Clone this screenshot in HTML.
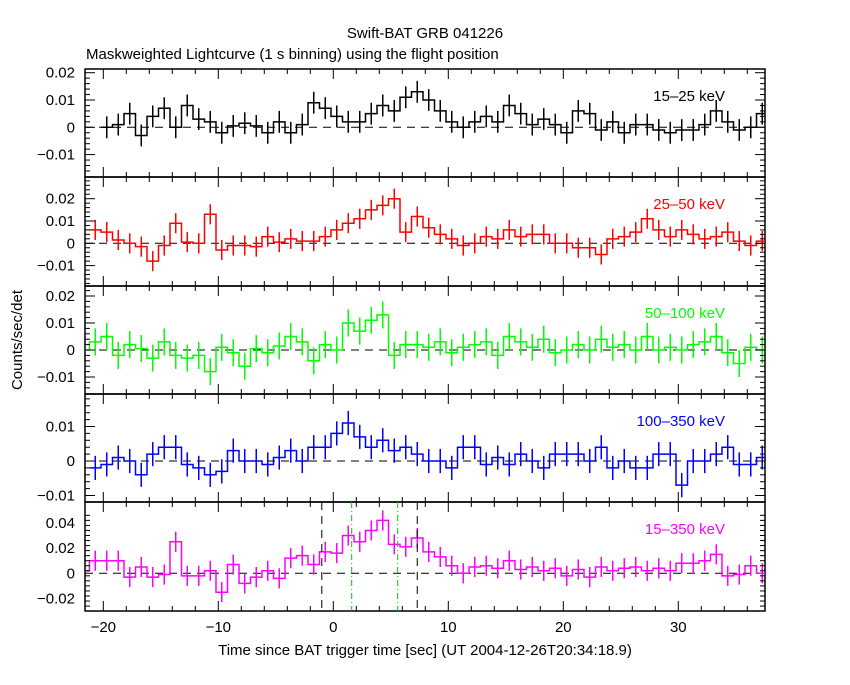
<!DOCTYPE html>
<html><head><meta charset="utf-8"><style>
body{margin:0;background:#fff;}
svg text{font-family:"Liberation Sans",sans-serif;font-size:15px;}
</style></head><body>
<svg id="s" width="850" height="680" xmlns="http://www.w3.org/2000/svg"></svg>
<script>
const S=document.getElementById('s');let h='';
const X0=85,X1=765,xz=333.3,xs=11.5;
const tx=t=>xz+t*xs;
h+='<text x="425" y="38" text-anchor="middle">Swift-BAT GRB 041226</text>';
h+='<text x="86" y="59">Maskweighted Lightcurve (1 s binning) using the flight position</text>';
h+='<text x="425" y="655" text-anchor="middle">Time since BAT trigger time [sec] (UT 2004-12-26T20:34:18.9)</text>';
h+='<text transform="translate(22,340) rotate(-90)" text-anchor="middle">Counts/sec/det</text>';
const P=[
{off:1,top:69,bot:177,z:127.3,s:2730,col:'#000',lab:'15–25 keV',ticks:[0.02,0.01,0,-0.01],fmt:['0.02','0.01','0','−0.01'],err:0.004,
d:[0,.001,.005,-.003,.004,.007,0,.008,.003,.002,-.002,.0005,.0015,.0005,-.002,.002,-.002,.001,.009,.007,.004,.002,.002,.005,.008,.006,.011,.013,.01,.006,.002,0,.002,.004,.002,.008,.005,.001,.003,.001,-.002,.006,.005,-.001,.002,-.002,.001,.001,-.001,-.002,-.001,-.001,.001,.006,.002,-.001,0,.005,.003]},
{off:0,top:177,bot:286,z:243.3,s:2230,col:'#f00',lab:'25–50 keV',ticks:[0.02,0.01,0,-0.01],fmt:['0.02','0.01','0','−0.01'],err:0.0045,
d:[.006,.005,.0015,0,-.0015,-.008,-.001,.009,.0005,0,.013,-.003,-.001,-.001,-.0015,.003,.0005,.002,.001,.001,.003,.006,.009,.011,.015,.017,.02,.005,.012,.007,.004,.002,-.001,0,.003,.002,.006,.003,.004,.004,0,0,-.002,-.002,-.005,.002,.003,.005,.011,.006,.003,.006,.004,.002,.003,.005,.001,-.001,.001]},
{off:-1,top:286,bot:394,z:350,s:2700,col:'#0f0',lab:'50–100 keV',ticks:[0.02,0.01,0,-0.01],fmt:['0.02','0.01','0','−0.01'],err:0.005,
d:[0,.003,.005,-.002,.002,.0005,-.003,.003,-.002,-.003,-.002,-.008,.001,-.001,-.006,.0005,-.001,.0015,.005,.003,-.004,.002,0,.01,.007,.011,.013,-.002,.002,.002,.001,.003,-.001,.001,.002,.003,-.002,.005,.003,.001,.004,-.001,0,.002,0,.004,.001,.002,0,.005,0,.001,0,.002,.003,.005,-.001,-.005,.001,0]},
{off:0,top:394,bot:502,z:461,s:3450,col:'#00f',lab:'100–350 keV',ticks:[0.01,0,-0.01],fmt:['0.01','0','−0.01'],err:0.0035,
d:[-.002,-.001,.001,0,-.004,.002,.004,.004,-.001,-.002,-.004,-.003,.003,0,0,-.001,.001,.003,0,.004,.004,.008,.011,.007,.004,.006,.003,.004,.002,0,0,-.002,.004,.004,-.001,.001,-.001,.002,0,-.002,.002,.002,.002,0,.004,-.002,0,-.002,-.002,.002,.002,-.007,0,0,.002,.004,-.001,-.001,.001]},
{off:-1,top:502,bot:611,z:573.3,s:1260,col:'#f0f',lab:'15–350 keV',ticks:[0.04,0.02,0,-0.02],fmt:['0.04','0.02','0','−0.02'],err:0.008,
d:[.002,.01,.01,.01,-.003,.005,-.003,-.001,.025,-.002,-.002,.002,-.015,.007,-.008,-.003,.002,-.004,.012,.014,.007,.017,.016,.03,.025,.034,.042,.023,.021,.028,.017,.013,.006,0,.005,.006,.004,.01,.003,.005,.002,.004,-.002,.003,-.003,.005,.002,.004,.005,.002,.004,.002,.008,.008,.01,.015,-.002,-.001,.006,0]}
];
h+='<defs><clipPath id="c"><rect x="85" y="69" width="680" height="542"/></clipPath></defs>';
P.forEach((p,k)=>{
 const ty=v=>p.z-v*p.s;
 h+=`<rect x="${X0}" y="${p.top}" width="${X1-X0}" height="${p.bot-p.top}" fill="none" stroke="#000" stroke-width="1.5"/>`;
 h+=`<line x1="${X0}" x2="${X1}" y1="${p.z}" y2="${p.z}" stroke="#000" stroke-dasharray="8,6"/>`;
 let path='';h+='<g clip-path="url(#c)">';
 const st0=-21.2+p.off;
 p.d.forEach((v,i)=>{const a=tx(st0+i),b=tx(st0+1+i),y=ty(v);
  path+=(i?'L':'M')+a+','+y+'L'+b+','+y;
  const m=(a+b)/2;h+=`<line x1="${m}" x2="${m}" y1="${ty(v+p.err)}" y2="${ty(v-p.err)}" stroke="${p.col}" stroke-width="1.5"/>`;});
 h+=`<path d="${path}" fill="none" stroke="${p.col}" stroke-width="1.5"/></g>`;
 for(let t=-20;t<=36;t+=2){const x=tx(t),L=t%10==0?10:5;
  h+=`<line x1="${x}" x2="${x}" y1="${p.top}" y2="${p.top+L}" stroke="#000"/><line x1="${x}" x2="${x}" y1="${p.bot}" y2="${p.bot-L}" stroke="#000"/>`;}
 const st=p.ticks[0]-p.ticks[1];const mn=st/5;
 for(let v=-0.05;v<=0.05;v+=mn){const y=ty(v);if(y<p.top+1||y>p.bot-1)continue;
  const maj=Math.abs(Math.round(v/st)*st-v)<mn/10,L=maj?10:5;
  h+=`<line x1="${X0}" x2="${X0+L}" y1="${y}" y2="${y}" stroke="#000"/><line x1="${X1}" x2="${X1-L}" y1="${y}" y2="${y}" stroke="#000"/>`;}
 p.ticks.forEach((v,j)=>{h+=`<text x="75" y="${ty(v)+5}" text-anchor="end">${p.fmt[j]}</text>`;});
 h+=`<text x="725" y="${k==0?101:p.top+32}" text-anchor="end" fill="${p.col}">${p.lab}</text>`;
});
[-1,7.3].forEach(t=>h+=`<line x1="${tx(t)}" x2="${tx(t)}" y1="502" y2="611" stroke="#000" stroke-dasharray="8,6"/>`);
[1.6,5.6].forEach(t=>h+=`<line x1="${tx(t)}" x2="${tx(t)}" y1="502" y2="611" stroke="#0c0" stroke-dasharray="6,3,1,3"/>`);
[-20,-10,0,10,20,30].forEach(t=>h+=`<text x="${tx(t)}" y="632" text-anchor="middle">${t<0?'−'+(-t):t}</text>`);
S.innerHTML=h;
</script>
</body></html>
